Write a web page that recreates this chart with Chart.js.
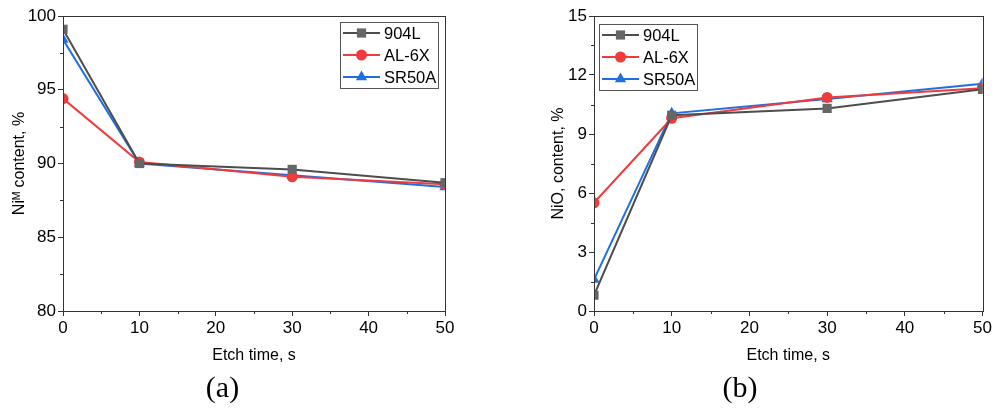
<!DOCTYPE html>
<html>
<head>
<meta charset="utf-8">
<script src="https://cdn.jsdelivr.net/npm/chart.js@4/dist/chart.umd.min.js"></script>
<style>
html,body{margin:0;padding:0;background:#fff;}
#wrap{position:relative;width:994px;height:415px;}
.box{position:absolute;top:0;height:415px;width:497px;}
</style>
</head>
<body>
<div id="wrap">
  <div class="box" style="left:0"><canvas id="ca"></canvas></div>
  <div class="box" style="left:497px"><canvas id="cb"></canvas></div>
</div>
<script>
// ---- data ----
const etchTime = [0, 10, 30, 50];
const seriesNames = ['904L', 'AL-6X', 'SR50A'];
const niM_904L = [99.1, 90.0, 89.6, 88.7];
const niM_AL6X = [94.4, 90.1, 89.1, 88.6];
const niM_SR50A = [98.4, 90.0, 89.2, 88.4];
const niO_904L = [0.8, 9.95, 10.3, 11.27];
const niO_AL6X = [5.5, 9.8, 10.86, 11.33];
const niO_SR50A = [1.6, 10.05, 10.78, 11.55];
const xTicks = [0, 10, 20, 30, 40, 50];
const yTicksA = [80, 85, 90, 95, 100];
const yTicksB = [0, 3, 6, 9, 12, 15];
const panelLabels = ['(a)', '(b)'];
const xTitle = 'Etch time, s';
const yTitleA = 'Ni\u1D39 content, %';
const yTitleB = 'NiO, content, %';

const styles = [
  {line: '#4d4d4d', fill: '#666666', pt: 'rect', r: 6.5},
  {line: '#ef3b3b', fill: '#ef3b3b', pt: 'circle', r: 5.5},
  {line: '#1f6fe0', fill: '#1f6fe0', pt: 'triangle', r: 6.5}
];

const FONT = '"Liberation Sans", Arial, "DejaVu Sans", sans-serif';

function mkDatasets(arrs){
  return arrs.map((vals, i) => ({
    label: seriesNames[i],
    data: etchTime.map((x, j) => ({x: x, y: vals[j]})),
    borderColor: styles[i].line,
    backgroundColor: styles[i].fill,
    pointBackgroundColor: styles[i].fill,
    pointBorderColor: styles[i].fill,
    pointBorderWidth: 0,
    pointStyle: styles[i].pt,
    pointRadius: styles[i].r,
    borderWidth: 2,
    tension: 0
  }));
}

// frame + minor ticks plugin
const framePlugin = {
  id: 'frame',
  afterDatasetsDraw(chart, args, opts){
    const {ctx, chartArea: a, scales} = chart;
    ctx.save();
    ctx.strokeStyle = '#333';
    ctx.lineWidth = 1;
    ctx.strokeRect(Math.round(a.left)+0.5, Math.round(a.top)+0.5, Math.round(a.right-a.left), Math.round(a.bottom-a.top));
    ctx.beginPath();
    const xs = scales.x, ys = scales.y;
    for (let i = 0; i < xTicks.length-1; i++){
      const v = (xTicks[i]+xTicks[i+1])/2;
      const px = Math.round(xs.getPixelForValue(v))+0.5;
      ctx.moveTo(px, a.bottom); ctx.lineTo(px, a.bottom+3);
    }
    const yt = opts.yTicks;
    for (let i = 0; i < yt.length-1; i++){
      const v = (yt[i]+yt[i+1])/2;
      const py = Math.round(ys.getPixelForValue(v))+0.5;
      ctx.moveTo(a.left, py); ctx.lineTo(a.left-3, py);
    }
    ctx.stroke();
    ctx.restore();
  }
};

// custom legend drawn with box (uses dataset labels/styles)
const legendPlugin = {
  id: 'customLegend',
  afterDraw(chart, args, o){
    const {ctx} = chart;
    const x = o.x, y = o.y, w = o.w, h = o.h;
    ctx.save();
    ctx.fillStyle = '#fff';
    ctx.fillRect(x, y, w, h);
    ctx.strokeStyle = '#555';
    ctx.lineWidth = 1;
    ctx.strokeRect(x+0.5, y+0.5, w, h);
    const rowH = h/3;
    chart.data.datasets.forEach((ds, i) => {
      const cy = y + rowH*(i+0.5);
      ctx.strokeStyle = ds.borderColor;
      ctx.lineWidth = 2;
      ctx.beginPath();
      ctx.moveTo(x+3, cy); ctx.lineTo(x+40, cy);
      ctx.stroke();
      ctx.fillStyle = ds.pointBackgroundColor;
      Chart.helpers.drawPoint(ctx, {pointStyle: ds.pointStyle, radius: ds.pointRadius, borderWidth: 0}, x+21.5, cy);
      ctx.fillStyle = '#000';
      ctx.font = '16.5px ' + FONT;
      ctx.textBaseline = 'middle';
      ctx.textAlign = 'left';
      ctx.fillText(ds.label, x+44, cy+1);
    });
    ctx.restore();
  }
};
Chart.register(legendPlugin);

function mkChart(id, arrs, yTicks, yMin, yMax, yTitle, yWidth, yTitlePad, padRight, legendBox, panel){
  return new Chart(document.getElementById(id), {
    type: 'line',
    data: {datasets: mkDatasets(arrs)},
    plugins: [framePlugin],
    options: {
      responsive: true,
      maintainAspectRatio: false,
      animation: false,
      layout: {padding: {top: 16, right: padRight, left: 0, bottom: 0}},
      plugins: {
        frame: {yTicks: yTicks},
        legend: {display: false},
        tooltip: {enabled: false},
        title: {
          display: true,
          position: 'bottom',
          text: panel,
          color: '#000',
          font: {family: '"Liberation Serif", "Times New Roman", serif', size: 30, weight: 'normal'},
          padding: {top: 0, bottom: 8}
        },
        customLegend: legendBox
      },
      scales: {
        x: {
          type: 'linear',
          min: 0, max: 50,
          afterBuildTicks: s => { s.ticks = xTicks.map(v => ({value: v})); },
          afterFit: s => { s.height = 60; },
          ticks: {color: '#000', font: {family: FONT, size: 17}, padding: 2, maxRotation: 0},
          grid: {display: true, drawOnChartArea: false, drawTicks: true, tickLength: 5, color: '#333', tickWidth: 1},
          border: {display: true, color: '#333', width: 1},
          title: {display: true, text: xTitle, color: '#000', font: {family: FONT, size: 16}, padding: {top: 0, bottom: 6}}
        },
        y: {
          type: 'linear',
          min: yMin, max: yMax,
          afterBuildTicks: s => { s.ticks = yTicks.map(v => ({value: v})); },
          afterFit: s => { s.width = yWidth; },
          ticks: {color: '#000', font: {family: FONT, size: 17}, padding: 2},
          grid: {display: true, drawOnChartArea: false, drawTicks: true, tickLength: 5, color: '#333', tickWidth: 1},
          border: {display: true, color: '#333', width: 1},
          title: {display: true, text: yTitle, color: '#000', font: {family: FONT, size: 16}, padding: {top: yTitlePad, bottom: 0}}
        }
      }
    },
  });
}

mkChart('ca', [niM_904L, niM_AL6X, niM_SR50A], yTicksA, 80, 100, yTitleA, 63, 10, 52,
  {x: 340, y: 22, w: 98, h: 66}, panelLabels[0]);
mkChart('cb', [niO_904L, niO_AL6X, niO_SR50A], yTicksB, 0, 15, yTitleB, 97, 52, 11,
  {x: 102, y: 24, w: 98, h: 66}, panelLabels[1]);
</script>
</body>
</html>
